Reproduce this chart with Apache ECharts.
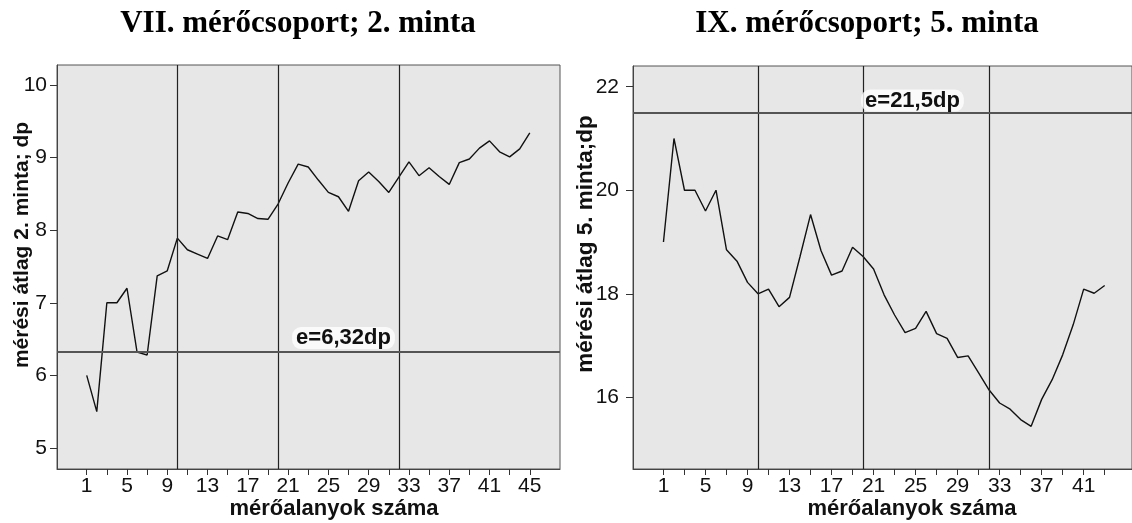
<!DOCTYPE html>
<html><head><meta charset="utf-8">
<script src="https://cdn.jsdelivr.net/npm/echarts@6/dist/echarts.min.js"></script>
<style>html,body{margin:0;padding:0;background:#fff}#c{width:1132px;height:523px}</style>
</head><body><div id="c"></div>
<script>
const leftTitle = 'VII. mérőcsoport; 2. minta';
const rightTitle = 'IX. mérőcsoport; 5. minta';
const leftYName = 'mérési átlag 2. minta; dp';
const rightYName = 'mérési átlag 5. minta;dp';
const xName = 'mérőalanyok száma';

const leftValues = [6.0, 5.5, 7.0, 7.0, 7.2, 6.32, 6.28, 7.37, 7.44, 7.89,
  7.73, 7.67, 7.61, 7.92, 7.87, 8.25, 8.23, 8.16, 8.15, 8.36,
  8.65, 8.91, 8.87, 8.69, 8.52, 8.46, 8.26, 8.68, 8.80, 8.67,
  8.52, 8.73, 8.94, 8.75, 8.86, 8.74, 8.63, 8.93, 8.98, 9.13,
  9.23, 9.08, 9.01, 9.12, 9.34];
const rightValues = [19.0, 21.0, 20.0, 20.0, 19.6, 20.0, 18.85, 18.63, 18.22, 18.0,
  18.09, 17.75, 17.93, 18.72, 19.53, 18.83, 18.36, 18.44, 18.90, 18.72,
  18.48, 17.98, 17.59, 17.25, 17.33, 17.66, 17.23, 17.14, 16.77, 16.80,
  16.47, 16.14, 15.89, 15.77, 15.57, 15.44, 15.96, 16.34, 16.82, 17.40,
  18.09, 18.01, 18.16];

const leftXTicks = [1,3,5,7,9,11,13,15,17,19,21,23,25,27,29,31,33,35,37,39,41,43,45];
const leftXLabels = [1,5,9,13,17,21,25,29,33,37,41,45];
const rightXTicks = [1,3,5,7,9,11,13,15,17,19,21,23,25,27,29,31,33,35,37,39,41,43];
const rightXLabels = [1,5,9,13,17,21,25,29,33,37,41];
const leftYLabels = [5,6,7,8,9,10];
const rightYLabels = [16,18,20,22];

const dividers = [10, 20, 32];
const eLeft = 6.32, eRight = 21.5;
const eLeftText = 'e=6,32dp', eRightText = 'e=21,5dp';

const toPts = vals => vals.map((v, i) => [i + 1, v]);

const tickFont = {fontSize: 21, color: '#111', fontFamily: 'Liberation Sans'};

function xAxisCfg(idx, min, max, ticks, labels) {
  return {
    type: 'value', gridIndex: idx, min: min, max: max,
    axisLine: {show: true, onZero: false, lineStyle: {color: '#444', width: 1}},
    axisTick: {show: true, customValues: ticks, length: 6, lineStyle: {color: '#333'}},
    axisLabel: Object.assign({customValues: labels, margin: 7}, tickFont),
    splitLine: {show: false}
  };
}
function yAxisCfg(idx, min, max, labels, margin) {
  return {
    type: 'value', gridIndex: idx, min: min, max: max,
    axisLine: {show: true, onZero: false, lineStyle: {color: '#444', width: 1}},
    axisTick: {show: true, customValues: labels, length: 7, lineStyle: {color: '#333'}},
    axisLabel: Object.assign({customValues: labels, margin: margin}, tickFont),
    splitLine: {show: false}
  };
}
function markLines(eVal) {
  return {
    silent: true, symbol: 'none', label: {show: false},
    data: dividers.map(x => ({xAxis: x, lineStyle: {color: '#222', width: 1.2, type: 'solid'}}))
      .concat([{yAxis: eVal, lineStyle: {color: '#555', width: 1.8, type: 'solid'}}])
  };
}
function eLabel(x, y, text, dy) {
  return {
    silent: true,
    data: [{coord: [x, y], symbol: 'circle', symbolSize: 1, itemStyle: {color: 'rgba(0,0,0,0)'},
      label: {show: true, position: 'inside', offset: [0, dy], formatter: text,
        fontSize: 22, fontWeight: 'bold', fontFamily: 'Liberation Sans', color: '#111',
        backgroundColor: 'rgba(255,255,255,0.8)', padding: [0, 4], borderRadius: 9}}]
  };
}

const chart = echarts.init(document.getElementById('c'));
chart.setOption({
  animation: false,
  backgroundColor: '#fff',
  title: [
    {text: leftTitle, left: 293, top: 3, textAlign: 'center',
      textStyle: {fontFamily: 'Liberation Serif', fontWeight: 'bold', fontSize: 31, color: '#000'}},
    {text: rightTitle, left: 862, top: 3, textAlign: 'center',
      textStyle: {fontFamily: 'Liberation Serif', fontWeight: 'bold', fontSize: 31, color: '#000'}}
  ],
  grid: [
    {left: 57, top: 65, width: 503, height: 404, show: true, backgroundColor: '#e7e7e7', borderColor: '#555', borderWidth: 1},
    {left: 633, top: 66, width: 502, height: 403, show: true, backgroundColor: '#e7e7e7', borderColor: '#555', borderWidth: 1}
  ],
  xAxis: [
    xAxisCfg(0, -1.95, 48, leftXTicks, leftXLabels),
    xAxisCfg(1, -1.9, 45.6, rightXTicks, rightXLabels)
  ],
  yAxis: [
    yAxisCfg(0, 4.71, 10.275, leftYLabels, 10),
    yAxisCfg(1, 14.615, 22.40, rightYLabels, 14)
  ],
  graphic: [
    {type: 'text', x: 22, y: 245, rotation: Math.PI / 2,
      style: {text: leftYName, fontSize: 21, fontWeight: 'bold', fontFamily: 'Liberation Sans', fill: '#111', align: 'center', verticalAlign: 'middle'}},
    {type: 'text', x: 586, y: 244, rotation: Math.PI / 2,
      style: {text: rightYName, fontSize: 22.5, fontWeight: 'bold', fontFamily: 'Liberation Sans', fill: '#111', align: 'center', verticalAlign: 'middle'}},
    {type: 'text', x: 334, y: 509,
      style: {text: xName, fontSize: 22, fontWeight: 'bold', fontFamily: 'Liberation Sans', fill: '#111', align: 'center', verticalAlign: 'middle'}},
    {type: 'text', x: 912, y: 509,
      style: {text: xName, fontSize: 22, fontWeight: 'bold', fontFamily: 'Liberation Sans', fill: '#111', align: 'center', verticalAlign: 'middle'}}
  ],
  series: [
    {type: 'line', xAxisIndex: 0, yAxisIndex: 0, data: toPts(leftValues), symbol: 'none',
      lineStyle: {color: '#111', width: 1.4}, markLine: markLines(eLeft), markPoint: eLabel(26.5, eLeft, eLeftText, -14)},
    {type: 'line', xAxisIndex: 1, yAxisIndex: 1, data: toPts(rightValues), symbol: 'none',
      lineStyle: {color: '#111', width: 1.4}, markLine: markLines(eRight), markPoint: eLabel(24.7, eRight, eRightText, -12)}
  ]
});
</script></body></html>
